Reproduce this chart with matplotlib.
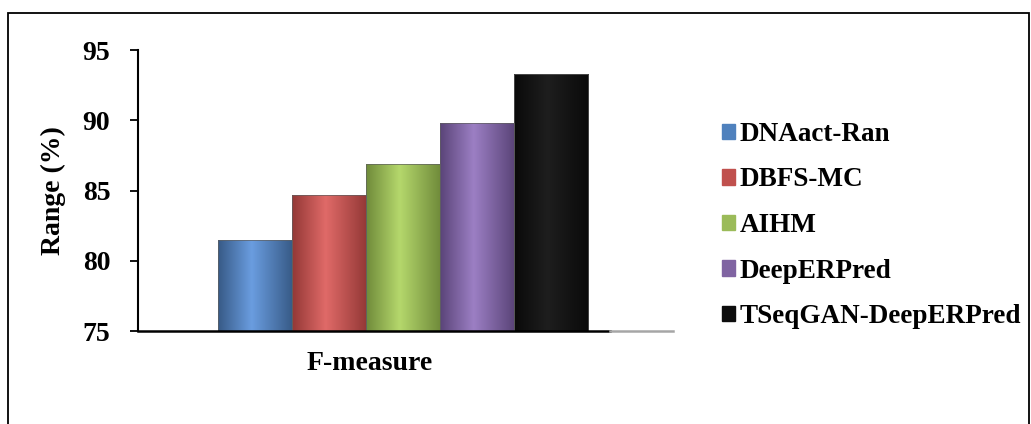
import numpy as np
import matplotlib
matplotlib.use("Agg")
import matplotlib.pyplot as plt
from matplotlib.colors import LinearSegmentedColormap
from matplotlib.patches import Rectangle

# Data
category = "F-measure"
methods = ["DNAact-Ran", "DBFS-MC", "AIHM", "DeepERPred", "TSeqGAN-DeepERPred"]
f_measure = [81.5, 84.7, 86.9, 89.8, 93.3]
y_ticks = [75, 80, 85, 90, 95]

# Legend swatch colours and cylinder shading (edge, highlight)
legend_colors = ["#4f81bd", "#c0504d", "#9bbb59", "#8064a2", "#0d0d0d"]
shade_dark = ["#375a86", "#933836", "#6f8a3a", "#5a4478", "#0a0a0a"]
shade_light = ["#6a9de0", "#e06a68", "#b5d86c", "#9c7fc4", "#1e1e1e"]

plt.rcParams["font.family"] = ["Liberation Serif", "DejaVu Serif"]
plt.rcParams["font.weight"] = "bold"

fig = plt.figure(figsize=(10.31, 4.24), dpi=100)
ax = fig.add_axes([0.1339, 0.2193, 0.5189, 0.6627])

n = len(methods)
group_width = 0.692
group_center = -0.005
w = group_width / n
x0 = group_center - group_width / 2 + w / 2
ymin = y_ticks[0]

for i, (val, dk, lt) in enumerate(zip(f_measure, shade_dark, shade_light)):
    xc = x0 + i * w
    bar = ax.bar(xc, val - ymin, width=w, bottom=ymin, color=legend_colors[i],
                 edgecolor="none", zorder=2)[0]
    cmap = LinearSegmentedColormap.from_list(
        f"shade{i}", [(0.0, dk), (0.45, lt), (1.0, dk)])
    grad = np.linspace(0, 1, 256).reshape(1, -1)
    im = ax.imshow(grad, cmap=cmap, aspect="auto", zorder=3,
                   extent=[xc - w / 2, xc + w / 2, ymin, val],
                   interpolation="bicubic")
    im.set_clip_path(bar)
    ax.add_patch(Rectangle((xc - w / 2, ymin), w, val - ymin, fill=False,
                           edgecolor="#606060", linewidth=0.5, zorder=4))

ax.set_xlim(-0.5, 0.5)
ax.set_ylim(y_ticks[0], y_ticks[-1])
ax.set_yticks(y_ticks)
ax.set_yticklabels([str(t) for t in y_ticks], fontsize=20, fontweight="bold")
ax.set_xticks([])
ax.tick_params(axis="y", direction="out", length=6, width=1.3, pad=14)

for s in ["top", "right", "bottom"]:
    ax.spines[s].set_visible(False)
ax.spines["left"].set_linewidth(1.5)

# baseline: dark through the plotted area, grey beyond it
ax.plot([0, 0.882], [0, 0], transform=ax.transAxes, color="black",
        linewidth=1.8, clip_on=False, zorder=5)
ax.plot([0.882, 1.0], [0, 0], transform=ax.transAxes, color="#a6a6a6",
        linewidth=1.8, clip_on=False, zorder=5)

ax.set_ylabel("Range (%)", fontsize=20, fontweight="bold", labelpad=12)
fig.text(370 / 1031, 1 - 363 / 424, category, ha="center", va="center",
         fontsize=20, fontweight="bold")

# Legend
handles = [Rectangle((0, 0), 1, 1, color=c) for c in legend_colors]
fig.legend(handles, methods, loc="upper left",
           bbox_to_anchor=(711 / 1031, 1 - 111 / 424), frameon=False,
           prop={"size": 19.5, "weight": "bold"}, handlelength=0.5,
           handleheight=0.5, handletextpad=0.15, labelspacing=0.76,
           borderaxespad=0)

# Outer frame
fig.patches.append(Rectangle((8 / 1031, -0.05), 1021 / 1031, 1.05 - 13 / 424,
                             transform=fig.transFigure, fill=False,
                             edgecolor="black", linewidth=1.3))

fig.savefig("out.png", dpi=100)
